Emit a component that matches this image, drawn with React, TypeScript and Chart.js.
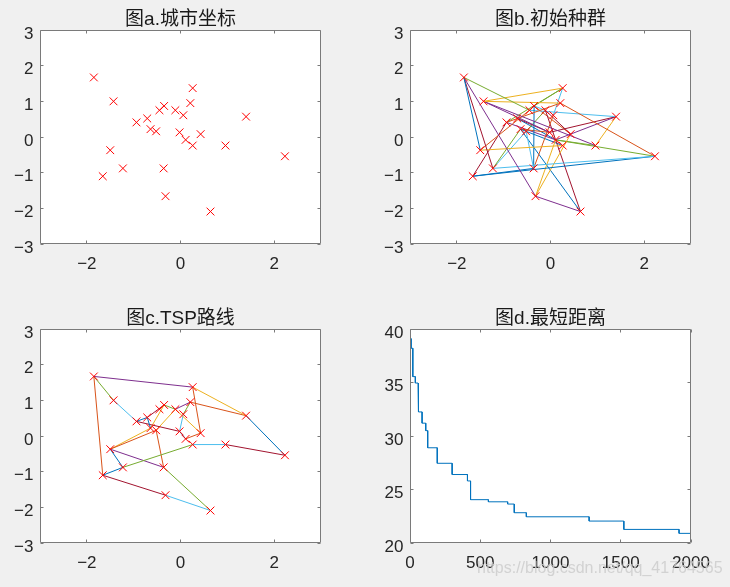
import React, { useEffect, useRef } from 'react';
import { Chart, registerables } from 'chart.js';

Chart.register(...registerables);

// ---------- data ----------
const cityX = [-1.85, -1.43, 0.26, 0.21, -0.35, -0.45, -0.11, 0.06, -0.71, -0.94, 1.40, -0.64, -0.52, -0.02, 0.43, 0.11, 0.26, 0.96, -1.50, 2.23, -1.23, -0.36, -1.66, -0.32, 0.64];
const cityY = [1.67, 1.00, 1.37, 0.95, 0.87, 0.75, 0.75, 0.61, 0.52, 0.41, 0.57, 0.22, 0.16, 0.13, 0.08, -0.08, -0.24, -0.24, -0.37, -0.54, -0.88, -0.88, -1.10, -1.66, -2.09];

// initial population segments (1-based city numbers) and their colour-order index
const popEdges = [
  [1, 6], [1, 19], [1, 21], [1, 24], [2, 3], [2, 4], [2, 14], [2, 18], [19, 6], [19, 17], [10, 4],
  [21, 20], [23, 20], [21, 12], [21, 13], [13, 22], [23, 10], [23, 22], [22, 5], [22, 8], [24, 15],
  [24, 16], [24, 25], [25, 12], [25, 7], [20, 4], [20, 16], [11, 6], [11, 14], [11, 16], [11, 18],
  [18, 16], [3, 8], [3, 10], [5, 7], [9, 14], [13, 7], [17, 12], [7, 15], [3, 5], [12, 14], [16, 10],
  [9, 16], [5, 15],
];
const popColors = [4, 0, 6, 3, 2, 2, 3, 3, 1, 2, 1, 5, 0, 4, 5, 5, 6, 0, 0, 1, 2, 2, 3, 0, 6, 1, 4, 5, 6, 3, 2, 4, 5, 4, 5, 6, 4, 0, 6, 4, 1, 3, 0, 1];

// TSP route segments
const routeEdges = [
  [1, 3], [3, 11], [11, 20], [20, 18], [18, 17], [17, 21], [21, 19], [21, 23], [19, 22], [22, 25],
  [25, 24], [24, 23], [23, 1], [1, 2], [2, 10], [10, 9], [9, 12], [10, 14], [9, 5], [5, 7], [7, 4],
  [8, 4], [3, 15], [4, 11], [15, 16], [16, 14], [7, 15], [8, 14], [22, 13], [19, 13], [19, 12],
  [13, 7], [12, 5],
];
const routeColors = [3, 2, 0, 6, 5, 4, 0, 0, 3, 4, 5, 6, 1, 4, 5, 0, 0, 6, 6, 4, 3, 4, 1, 1, 1, 0, 2, 5, 1, 1, 2, 2, 2];

// shortest distance: generation where it changes and the new value
const stepIter = [0, 8, 20, 38, 57, 62, 86, 112, 126, 194, 300, 409, 431, 558, 695, 742, 828, 1275, 1522, 1915];
const stepDist = [39.1, 38.2, 35.55, 34.95, 33.3, 32.25, 31.2, 30.5, 28.9, 27.45, 26.4, 25.8, 24.05, 23.85, 23.64, 22.83, 22.45, 22.05, 21.27, 20.9];
const lastIter = 2000;

const cityXTicks = [-2, 0, 2];
const cityYTicks = [-3, -2, -1, 0, 1, 2, 3];
const iterTicks = [0, 500, 1000, 1500, 2000];
const distTicks = [20, 25, 30, 35, 40];

const titles = ['图a.城市坐标', '图b.初始种群', '图c.TSP路线', '图d.最短距离'];

// ---------- styles ----------
const PALETTE = ['#0072BD', '#D95319', '#EDB120', '#7E2F8E', '#77AC30', '#4DBEEE', '#A2142F'];
const AXIS = '#7a7a7a';
const TEXT = '#262626';
const FONT = '"Liberation Sans", Arial, sans-serif';
const W = 730;
const H = 587;
const YAXIS_W = 40;
const XAXIS_H = 32;

type Area = { left: number; top: number; right: number; bottom: number };

function framePlugin(title: string) {
  return {
    id: 'frame',
    beforeDraw(chart: any) {
      const { ctx, chartArea: a } = chart;
      ctx.save();
      ctx.fillStyle = '#ffffff';
      ctx.fillRect(a.left, a.top, a.right - a.left, a.bottom - a.top);
      ctx.restore();
    },
    afterDraw(chart: any) {
      const { ctx, chartArea: a, scales } = chart;
      ctx.save();
      ctx.strokeStyle = AXIS;
      ctx.lineWidth = 1;
      const L = a.left + 0.5, R = a.right - 0.5, T = a.top + 0.5, B = a.bottom - 0.5;
      ctx.beginPath();
      ctx.rect(L, T, R - L, B - T);
      const tl = 3;
      for (const t of scales.x.ticks) {
        const px = Math.floor(scales.x.getPixelForValue(t.value)) + 0.5;
        ctx.moveTo(px, B); ctx.lineTo(px, B - tl);
        ctx.moveTo(px, T); ctx.lineTo(px, T + tl);
      }
      for (const t of scales.y.ticks) {
        const py = Math.floor(scales.y.getPixelForValue(t.value)) + 0.5;
        ctx.moveTo(L, py); ctx.lineTo(L + tl, py);
        ctx.moveTo(R, py); ctx.lineTo(R - tl, py);
      }
      ctx.stroke();
      ctx.fillStyle = '#1a1a1a';
      ctx.font = `19px "Liberation Sans", Arial, "Noto Sans CJK SC", sans-serif`;
      ctx.textAlign = 'center';
      ctx.textBaseline = 'alphabetic';
      ctx.fillText(title, (a.left + a.right) / 2, a.top - 5.5);
      ctx.restore();
    },
  };
}

const fmt = (v: number) => (v < 0 ? '\u2212' + String(-v) : String(v));

function axis(min: number, max: number, ticks: number[], horizontal: boolean) {
  return {
    type: 'linear',
    min,
    max,
    afterBuildTicks: (s: any) => { s.ticks = ticks.map((v) => ({ value: v })); },
    afterFit: (s: any) => { if (horizontal) s.height = XAXIS_H; else s.width = YAXIS_W; },
    grid: { display: false, drawTicks: false },
    border: { display: false },
    ticks: {
      padding: horizontal ? 10 : 6.5,
      labelOffset: horizontal ? 0 : 4,
      color: TEXT,
      font: { family: FONT, size: 17 },
      maxRotation: 0,
      minRotation: 0,
      autoSkip: false,
      callback: (v: any) => fmt(Number(v)),
    },
  };
}

function makeConfig(area: Area, title: string, x: [number, number, number[]], y: [number, number, number[]], datasets: any[]) {
  return {
    type: 'scatter',
    data: { datasets },
    options: {
      animation: false,
      responsive: false,
      maintainAspectRatio: false,
      events: [],
      layout: {
        padding: {
          left: area.left - YAXIS_W,
          top: area.top,
          right: W - area.right,
          bottom: H - area.bottom - XAXIS_H,
        },
      },
      plugins: { legend: { display: false }, tooltip: { enabled: false }, title: { display: false } },
      scales: { x: axis(x[0], x[1], x[2], true), y: axis(y[0], y[1], y[2], false) },
    },
    plugins: [framePlugin(title)],
  };
}

const cityPoints = () => cityX.map((v, i) => ({ x: v, y: cityY[i] }));

const markerSet = () => ({
  data: cityPoints(),
  pointStyle: 'crossRot',
  pointRadius: 5.5,
  pointBorderWidth: 1,
  pointBorderColor: '#ff0000',
  pointBackgroundColor: '#ff0000',
  borderColor: '#ff0000',
  backgroundColor: '#ff0000',
  showLine: false,
});

const edgeSets = (edges: number[][], colors: number[]) =>
  edges.map((e, i) => ({
    data: [
      { x: cityX[e[0] - 1], y: cityY[e[0] - 1] },
      { x: cityX[e[1] - 1], y: cityY[e[1] - 1] },
    ],
    showLine: true,
    borderColor: PALETTE[colors[i]],
    backgroundColor: PALETTE[colors[i]],
    borderWidth: 1,
    pointRadius: 0,
  }));

function distPoints() {
  const pts = [{ x: stepIter[0], y: stepDist[0] }];
  for (let i = 1; i < stepIter.length; i++) {
    pts.push({ x: stepIter[i], y: stepDist[i - 1] });
    pts.push({ x: stepIter[i], y: stepDist[i] });
  }
  pts.push({ x: lastIter, y: stepDist[stepDist.length - 1] });
  return pts;
}

const areas: Area[] = [
  { left: 40, top: 30, right: 321, bottom: 244 },
  { left: 410, top: 30, right: 691, bottom: 244 },
  { left: 40, top: 329, right: 321, bottom: 543 },
  { left: 410, top: 329, right: 691, bottom: 543 },
];

const builders = [
  () => makeConfig(areas[0], titles[0], [-3, 3, cityXTicks], [-3, 3, cityYTicks], [markerSet()]),
  () => makeConfig(areas[1], titles[1], [-3, 3, cityXTicks], [-3, 3, cityYTicks], [markerSet(), ...edgeSets(popEdges, popColors)]),
  () => makeConfig(areas[2], titles[2], [-3, 3, cityXTicks], [-3, 3, cityYTicks], [markerSet(), ...edgeSets(routeEdges, routeColors)]),
  () => makeConfig(areas[3], titles[3], [0, 2000, iterTicks], [20, 40, distTicks], [
    { data: distPoints(), showLine: true, borderColor: '#0072BD', backgroundColor: '#0072BD', borderWidth: 1, pointRadius: 0, tension: 0 },
  ]),
];

function ChartCanvas({ build }: { build: () => any }) {
  const ref = useRef<HTMLCanvasElement>(null);
  useEffect(() => {
    const chart = new Chart(ref.current as HTMLCanvasElement, build());
    return () => chart.destroy();
  }, []);
  return (
    <canvas
      ref={ref}
      width={W}
      height={H}
      style={{ position: 'absolute', left: 0, top: 0, width: W, height: H }}
    />
  );
}

export default function App() {
  return (
    <div style={{ position: 'fixed', left: 0, top: 0, width: W, height: H, background: '#f0f0f0', overflow: 'hidden' }}>
      {builders.map((b, i) => (
        <ChartCanvas key={i} build={b} />
      ))}
      <div
        style={{
          position: 'absolute',
          left: 477,
          top: 560,
          font: `16px ${FONT}`,
          lineHeight: 1,
          color: 'rgba(205,205,205,0.85)',
          whiteSpace: 'nowrap',
          pointerEvents: 'none',
        }}
      >
        https://blog.csdn.net/qq_41764565
      </div>
    </div>
  );
}
